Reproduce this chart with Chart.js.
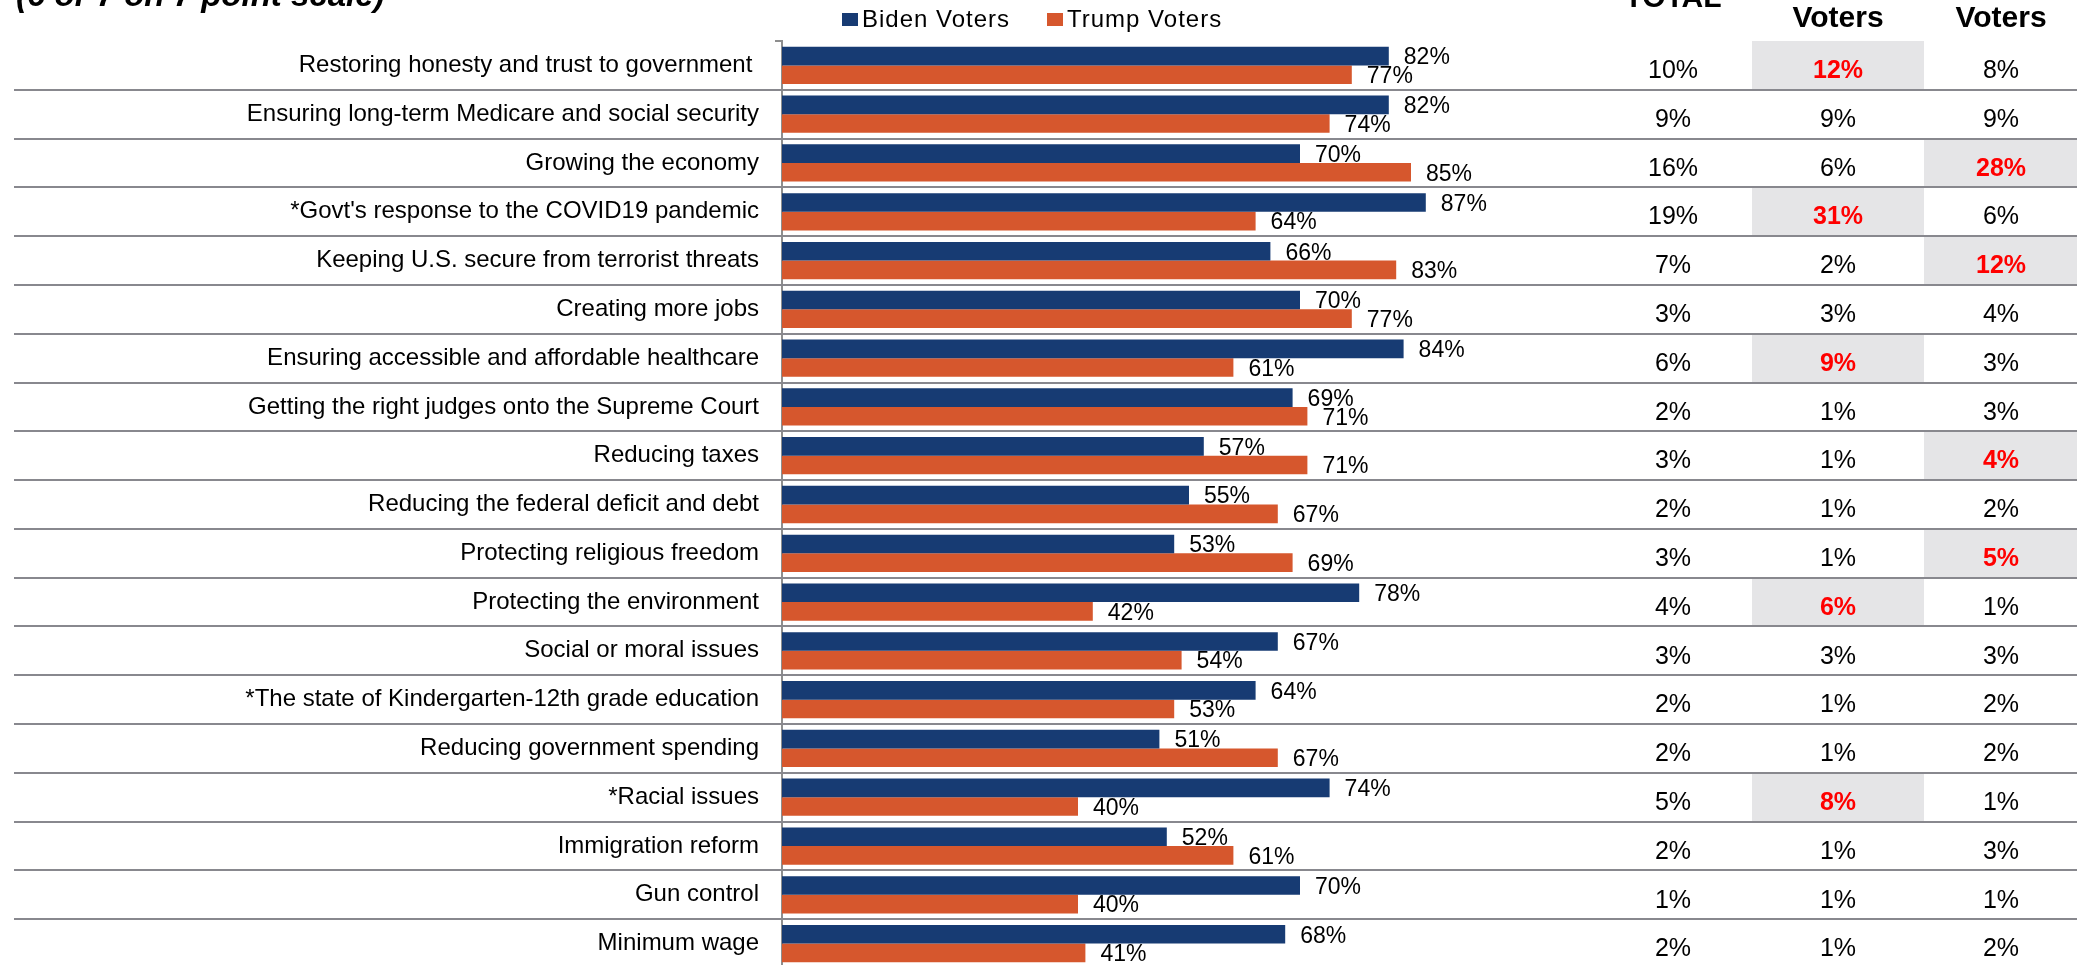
<!DOCTYPE html>
<html>
<head>
<meta charset="utf-8">
<title>Issue importance by voter group</title>
<script src="https://cdn.jsdelivr.net/npm/chart.js@4.4.1/dist/chart.umd.min.js"></script>
<style>
  html, body { margin: 0; padding: 0; background: #fff; overflow: hidden; }
  #wrap { position: relative; width: 2077px; height: 972px; }
</style>
</head>
<body>
<div id="wrap"><canvas id="issuesChart"></canvas></div>
<script>
// Issues, in the order they are listed
const issues = [
  'Restoring honesty and trust to government ',
  'Ensuring long-term Medicare and social security',
  'Growing the economy',
  "*Govt's response to the COVID19 pandemic",
  'Keeping U.S. secure from terrorist threats',
  'Creating more jobs',
  'Ensuring accessible and affordable healthcare',
  'Getting the right judges onto the Supreme Court',
  'Reducing taxes',
  'Reducing the federal deficit and debt',
  'Protecting religious freedom',
  'Protecting the environment',
  'Social or moral issues',
  '*The state of Kindergarten-12th grade education',
  'Reducing government spending',
  '*Racial issues',
  'Immigration reform',
  'Gun control',
  'Minimum wage'
];

const seriesNames = ['Biden Voters', 'Trump Voters'];

// % rating each issue 6 or 7
const bidenPct = [82, 82, 70, 87, 66, 70, 84, 69, 57, 55, 53, 78, 67, 64, 51, 74, 52, 70, 68];
const trumpPct = [77, 74, 85, 64, 83, 77, 61, 71, 71, 67, 69, 42, 54, 53, 67, 40, 61, 40, 41];

// % naming the issue as most important
const totalTop = [10, 9, 16, 19, 7, 3, 6, 2, 3, 2, 3, 4, 3, 2, 2, 5, 2, 1, 2];
const bidenTop = [12, 9, 6, 31, 2, 3, 9, 1, 1, 1, 1, 6, 3, 1, 1, 8, 1, 1, 1];
const trumpTop = [8, 9, 28, 6, 12, 4, 3, 3, 4, 2, 5, 1, 3, 2, 2, 1, 3, 1, 2];

// rows where a group stands out (shaded, red)
const bidenStandout = [0, 3, 6, 11, 15];
const trumpStandout = [2, 4, 8, 10];

const tableHeaders = ['TOTAL', 'Voters', 'Voters'];

const BLUE = '#173b73';
const ORANGE = '#d6572d';
const RULE = '#88888e';
const SHADE = '#e5e5e7';
const FONT = "'Liberation Sans', Arial, sans-serif";

// table column centres and shaded cell spans
const COL_X = [1673, 1838, 2001];
const CELL_SPANS = [null, [1752, 1924], [1924, 2077]];

const sideTable = {
  id: 'sideTable',
  beforeDatasetsDraw(chart) {
    const { ctx, scales: { y } } = chart;
    const half = (y.getPixelForValue(1) - y.getPixelForValue(0)) / 2;
    ctx.save();
    ctx.fillStyle = SHADE;
    [[1, bidenStandout], [2, trumpStandout]].forEach(([col, rows]) => {
      const [x0, x1] = CELL_SPANS[col];
      rows.forEach(i => {
        const c = y.getPixelForValue(i);
        ctx.fillRect(x0, c - half, x1 - x0, half * 2);
      });
    });
    ctx.strokeStyle = RULE;
    ctx.lineWidth = 2;
    for (let i = 0; i < issues.length; i++) {
      const yy = Math.round(y.getPixelForValue(i) + half);
      ctx.beginPath();
      ctx.moveTo(14, yy);
      ctx.lineTo(chart.width, yy);
      ctx.stroke();
    }
    ctx.restore();
  },
  afterDraw(chart) {
    const { ctx, scales: { y } } = chart;
    ctx.save();
    ctx.textBaseline = 'alphabetic';

    // value labels at the bar ends
    ctx.fillStyle = '#000';
    ctx.textAlign = 'left';
    ctx.font = `23px ${FONT}`;
    chart.data.datasets.forEach((ds, di) => {
      chart.getDatasetMeta(di).data.forEach((bar, i) => {
        ctx.fillText(ds.data[i] + '%', bar.x + 15, bar.y + 8.3);
      });
    });

    // most-important table
    ctx.textAlign = 'center';
    const cols = [totalTop, bidenTop, trumpTop];
    const standout = [[], bidenStandout, trumpStandout];
    issues.forEach((_, i) => {
      const base = y.getPixelForValue(i) + 12.7;
      cols.forEach((vals, c) => {
        const hot = standout[c].includes(i);
        ctx.font = `${hot ? 'bold ' : ''}25px ${FONT}`;
        ctx.fillStyle = hot ? '#ff0000' : '#000';
        ctx.fillText(vals[i] + '%', COL_X[c], base);
      });
    });

    ctx.fillStyle = '#000';
    ctx.font = `bold 30px ${FONT}`;
    ctx.fillText(tableHeaders[0], COL_X[0], 6.7);
    ctx.fillText(tableHeaders[1], COL_X[1], 26.7);
    ctx.fillText(tableHeaders[2], COL_X[2], 26.7);

    // scale note, top left
    ctx.textAlign = 'left';
    ctx.font = `italic bold 33px ${FONT}`;
    ctx.fillText('(6 or 7 on 7 point scale)', 16, 6);

    // legend
    ctx.font = `24px ${FONT}`;
    ctx.letterSpacing = '1px';
    const legendX = [842, 1047];
    chart.data.datasets.forEach((ds, di) => {
      ctx.fillStyle = ds.backgroundColor;
      ctx.fillRect(legendX[di], 13, 16, 13);
      ctx.fillStyle = '#000';
      ctx.fillText(ds.label, legendX[di] + 20, 27);
    });
    ctx.restore();
  }
};

const ctx = document.getElementById('issuesChart').getContext('2d');
const issuesChart = new Chart(ctx, {
  type: 'bar',
  data: {
    labels: issues,
    datasets: [
      { label: seriesNames[0], data: bidenPct, backgroundColor: BLUE, categoryPercentage: 0.764, barPercentage: 1 },
      { label: seriesNames[1], data: trumpPct, backgroundColor: ORANGE, categoryPercentage: 0.764, barPercentage: 1 }
    ]
  },
  options: {
    indexAxis: 'y',
    responsive: true,
    maintainAspectRatio: false,
    animation: false,
    layout: { padding: { left: 0, right: 555, top: 41, bottom: 4 } },
    plugins: {
      legend: { display: false },
      tooltip: { enabled: false }
    },
    scales: {
      x: { display: false, min: 0, max: 100 },
      y: {
        z: 1,
        grid: { drawOnChartArea: false, drawTicks: true, tickLength: 7, color: '#8e8e8e', lineWidth: 2, offset: true },
        border: { display: true, color: '#8e8e8e', width: 2 },
        ticks: {
          autoSkip: false,
          color: '#000',
          padding: 16,
          font: { family: FONT, size: 24 }
        },
        afterFit(scale) {
          // keep the axis at a fixed x and let rows run the full height
          scale.width = 782;
          scale.paddingTop = 0;
          scale.paddingBottom = 0;
        }
      }
    }
  },
  plugins: [sideTable]
});
</script>
</body>
</html>
